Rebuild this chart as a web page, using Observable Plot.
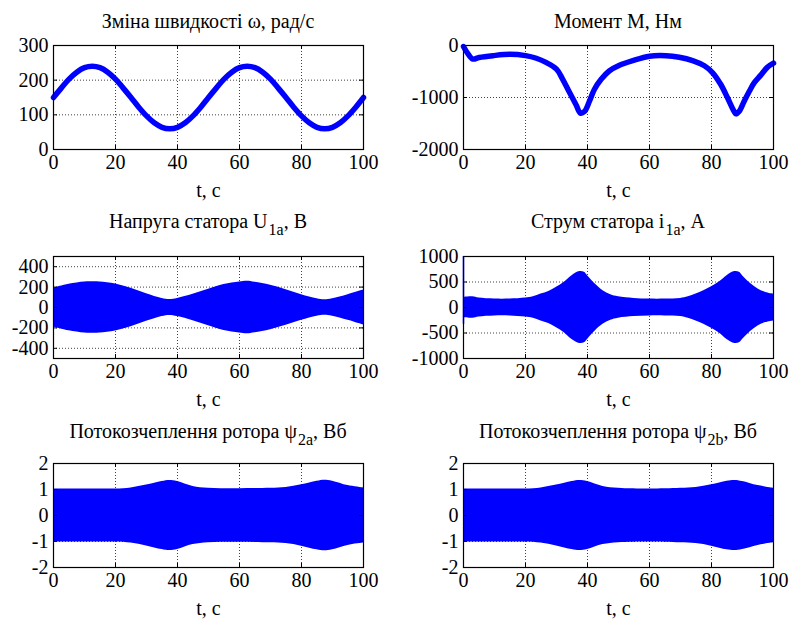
<!DOCTYPE html>
<html><head><meta charset="utf-8">
<script src="https://cdn.jsdelivr.net/npm/d3@7"></script>
<script src="https://cdn.jsdelivr.net/npm/@observablehq/plot@0.6"></script>
<style>
body{margin:0;background:#fff;}
#root{position:relative;width:792px;height:619px;}
#root *{font-family:'Liberation Serif',serif !important;}
.title{position:absolute;white-space:nowrap;color:#000;}
.sub{position:relative;top:7px;margin-left:1px;}
</style></head><body><div id="root"></div>
<script>
// ---- data ----
const xTicks = [0, 20, 40, 60, 80, 100];

// Speed ω, rad/s
const tSpeed = [0,2.5,5,7.5,10,12.5,15,17.5,20,22.5,25,27.5,30,32.5,35,37.5,40,42.5,45,47.5,50,52.5,55,57.5,60,62.5,65,67.5,70,72.5,75,77.5,80,82.5,85,87.5,90,92.5,95,97.5,100];
const speed  = [150,177,203,223,236,240,236,223,203,177,150,122,97,77,64,60,64,77,97,122,150,177,203,223,236,240,236,223,203,177,150,122,97,77,64,60,64,77,97,122,150];
const speedTicks = [0, 100, 200, 300];

// Torque M, Nm
const tTorque = [0,1,3,5,9.5,15,20,23.5,26.6,30,32,34,36.3,37.7,39,40.6,42.2,44.4,47,50.3,54.6,60,65.3,69.6,73.9,77.7,80.3,83,85.2,87.3,87.9,88.9,90.5,92.2,93.8,95.9,98,100];
const torque  = [-20,-120,-260,-230,-195,-170,-195,-245,-325,-455,-650,-880,-1140,-1300,-1270,-1075,-845,-650,-490,-380,-290,-205,-195,-225,-290,-390,-520,-750,-1010,-1270,-1315,-1270,-1075,-880,-715,-570,-420,-340];
const torqueTicks = [-2000, -1000, 0];

// Stator voltage U1a envelope, V
const tVolt = [0,5,10,12.5,15,20,25,30,35,37.5,40,45,50,55,60,62.5,65,70,75,80,85,87.5,90,95,100];
const volt  = [190,228,250,252,250,230,189,136,89,78,89,129,179,225,250,258,248,219,175,126,86,76,86,126,172];
const voltTicks = [-400, -200, 0, 200, 400];

// Stator current i1a envelope, A
const tCurr = [0.3,3,5,10,15,20,22.5,25,27.5,30,32.5,35,37.5,39,40,42.5,45,47.5,50,55,60,65,70,72.5,75,77.5,80,82.5,85,87.5,89,90,92.5,95,97.5,100];
const curr  = [200,210,185,165,165,185,210,263,316,395,493,625,704,690,625,460,329,250,210,178,165,165,178,210,263,329,408,500,625,704,690,625,474,362,296,263];
const currSpike = {t: 0, lo: -330, hi: 1000};
const currTicks = [-1000, -500, 0, 500, 1000];

// Rotor flux linkage ψ2a, ψ2b envelopes, Wb
const tFlux = [0,10,20,25,30,35,37.5,40,45,50,60,70,75,80,85,87.5,90,95,100];
const fluxA = [1.02,1.02,1.02,1.06,1.17,1.31,1.35,1.31,1.12,1.05,1.03,1.05,1.08,1.18,1.32,1.36,1.32,1.15,1.06];
const fluxB = [1.02,1.02,1.02,1.06,1.17,1.31,1.35,1.31,1.12,1.05,1.02,1.05,1.08,1.18,1.32,1.35,1.31,1.15,1.05];
const fluxTicks = [-2, -1, 0, 1, 2];

// ---- layout ----
const BLUE = "#0000ff";
const FONT = "'Liberation Serif', serif";
const TICK_SIZE = "20px";
const cols = [{x0: 0, L: 53, R: 363}, {x0: 396, L: 463, R: 773}];
const rows = [{T: 45, B: 149}, {T: 256, B: 358}, {T: 463, B: 567}];
const root = document.getElementById("root");

function forceFont(el, size) {
  el.style.setProperty("font-family", FONT, "important");
  el.style.setProperty("font-size", size, "important");
}

function panel(col, row, yDomain, yTicks, dataMarks, titleParts, titleBaseline) {
  const c = cols[col], r = rows[row];
  const mt = 12, mb = 52;
  const H = r.B - r.T;
  const W = 396;
  const fmt = d => String(d);
  const chart = Plot.plot({
    width: W,
    height: H + mt + mb,
    marginLeft: c.L - c.x0,
    marginRight: c.x0 + W - c.R,
    marginTop: mt,
    marginBottom: mb,
    style: {fontFamily: FONT, fontSize: TICK_SIZE, background: "transparent", color: "#000", overflow: "visible"},
    x: {domain: [0, 100]},
    y: {domain: yDomain},
    marks: [
      Plot.ruleX([20, 40, 60, 80], {stroke: "#000", strokeOpacity: 0.75, strokeDasharray: "1,2"}),
      Plot.ruleY(yTicks.filter(v => v > yDomain[0] && v < yDomain[1]), {stroke: "#000", strokeOpacity: 0.75, strokeDasharray: "1,2"}),
      ...dataMarks,
      Plot.tickX(xTicks, {x: d => d, insetTop: H - 4, stroke: "#000"}),
      Plot.tickX(xTicks, {x: d => d, insetBottom: H - 4, stroke: "#000"}),
      Plot.tickY(yTicks, {y: d => d, insetRight: (c.R - c.L) - 4, stroke: "#000"}),
      Plot.tickY(yTicks, {y: d => d, insetLeft: (c.R - c.L) - 4, stroke: "#000"}),
      Plot.frame({stroke: "#000", strokeWidth: 1.2}),
      Plot.axisX({ticks: xTicks, tickSize: 0, tickPadding: 5, tickFormat: fmt, label: "t, c", labelAnchor: "center", labelOffset: 47, labelArrow: "none"}),
      Plot.axisY({ticks: yTicks, tickSize: 0, tickPadding: 5, tickFormat: fmt, label: null})
    ]
  });
  chart.style.position = "absolute";
  chart.style.left = c.x0 + "px";
  chart.style.top = (r.T - mt) + "px";
  forceFont(chart, TICK_SIZE);
  chart.querySelectorAll("g, text").forEach(el => forceFont(el, TICK_SIZE));
  root.appendChild(chart);

  const t = document.createElement("div");
  t.className = "title";
  forceFont(t, "20px");
  t.append(titleParts[0]);
  if (titleParts.length > 1) {
    const s = document.createElement("span");
    s.className = "sub";
    forceFont(s, "16px");
    s.textContent = titleParts[1];
    t.append(s, titleParts[2]);
  }
  root.appendChild(t);
  const w = t.getBoundingClientRect().width;
  t.style.left = ((c.L + c.R) / 2 - w / 2) + "px";
  t.style.top = (titleBaseline - 19) + "px";
}

const rowsOf = (ts, vs) => ts.map((t, i) => ({t, v: vs[i]}));
const envelope = (ts, vs) => Plot.areaY(rowsOf(ts, vs), {x: "t", y1: d => -d.v, y2: d => d.v, fill: BLUE, curve: "catmull-rom"});

panel(0, 0, [0, 300], speedTicks,
  [Plot.line(rowsOf(tSpeed, speed), {x: "t", y: "v", stroke: BLUE, strokeWidth: 5.5, curve: "catmull-rom"})],
  ["Зміна швидкості ω, рад/с"], 29);

panel(1, 0, [-2000, 0], torqueTicks,
  [Plot.line(rowsOf(tTorque, torque), {x: "t", y: "v", stroke: BLUE, strokeWidth: 5.5, curve: "catmull-rom"})],
  ["Момент М, Нм"], 29);

panel(0, 1, [-500, 500], voltTicks,
  [envelope(tVolt, volt)],
  ["Напруга статора U", "1a", ", В"], 229);

panel(1, 1, [-1000, 1000], currTicks,
  [envelope(tCurr, curr),
   Plot.ruleX([currSpike], {x: "t", y1: "lo", y2: "hi", stroke: BLUE, strokeWidth: 1.5})],
  ["Струм статора i", "1a", ", А"], 229);

panel(0, 2, [-2, 2], fluxTicks,
  [envelope(tFlux, fluxA)],
  ["Потокозчеплення ротора ψ", "2a", ", Вб"], 439);

panel(1, 2, [-2, 2], fluxTicks,
  [envelope(tFlux, fluxB)],
  ["Потокозчеплення ротора ψ", "2b", ", Вб"], 439);
</script>
</body></html>
